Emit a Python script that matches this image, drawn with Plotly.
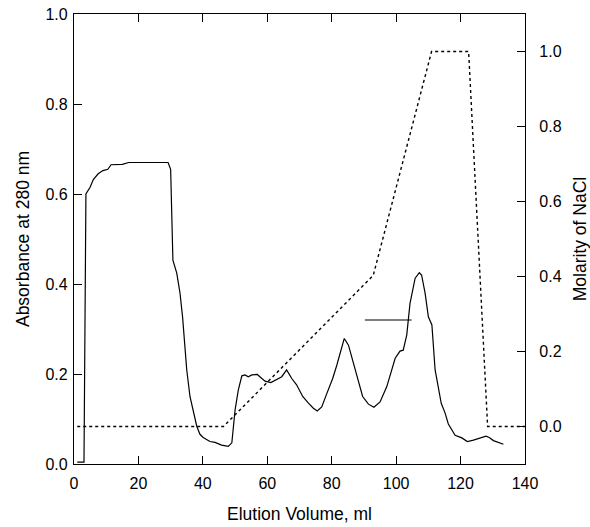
"""
Elution profile: absorbance at 280 nm and NaCl gradient.
"""

import plotly.graph_objects as go

# Absorbance trace (solid)
volume = [1, 3.1, 3.7, 5, 6, 7.5, 9, 10.5, 11.5, 12.5, 15, 17, 20, 25, 29.2, 30, 30.7,
          31.9, 32.9, 33.7, 34.5, 35, 36, 37, 38.1, 39.1, 40.1, 42.2, 43.8, 45.8,
          47.9, 49, 50, 51, 52.1, 53.1, 54.1, 55.2, 56.9, 57.7, 59.3, 61.1, 62.9,
          64.5, 66, 67.6, 69.1, 71, 72.7, 74.3, 75.5, 76.9, 78.5, 80.3, 81.6, 82.8,
          83.9, 85.2, 86.2, 87.8, 89.6, 91.4, 93.1, 95, 97.1, 99.7, 101.2, 102.2,
          103.3, 104.3, 105.9, 107.2, 107.9, 109, 110, 111.1, 112.1, 114, 115.2,
          116.2, 118.3, 120.4, 122.1, 124, 126, 127.9, 128.9, 130.2, 133.3]
absorbance = [0.004, 0.004, 0.6, 0.615, 0.632, 0.645, 0.652, 0.655, 0.665, 0.665,
              0.666, 0.67, 0.67, 0.67, 0.67, 0.655, 0.453, 0.424, 0.38, 0.327,
              0.253, 0.209, 0.15, 0.12, 0.084, 0.066, 0.059, 0.05, 0.048, 0.042,
              0.039, 0.047, 0.12, 0.164, 0.196, 0.198, 0.194, 0.198, 0.199, 0.194,
              0.184, 0.181, 0.187, 0.194, 0.209, 0.19, 0.176, 0.15, 0.136, 0.124,
              0.118, 0.127, 0.157, 0.19, 0.22, 0.25, 0.279, 0.264, 0.238, 0.194,
              0.15, 0.133, 0.126, 0.138, 0.172, 0.235, 0.251, 0.253, 0.287, 0.357,
              0.413, 0.425, 0.42, 0.379, 0.327, 0.309, 0.209, 0.135, 0.113, 0.089,
              0.064, 0.058, 0.05, 0.053, 0.058, 0.062, 0.059, 0.052, 0.044]

# Short horizontal marker line
marker_x = [90.3, 104.8]
marker_y = [0.32, 0.32]

# NaCl gradient (dotted, right axis)
gradient_volume = [1, 46.4, 92.9, 111.0, 122.5, 128.4, 140]
molarity = [0.0, 0.0, 0.403, 1.0, 1.0, 0.0, 0.0]

FONTE = 'Liberation Sans, Arial, sans-serif'

fig = go.Figure()

fig.add_trace(go.Scatter(
    x=volume, y=absorbance, mode='lines',
    line=dict(color='black', width=1.2), showlegend=False
))
fig.add_trace(go.Scatter(
    x=marker_x, y=marker_y, mode='lines',
    line=dict(color='black', width=1.2), showlegend=False
))
fig.add_trace(go.Scatter(
    x=gradient_volume, y=molarity, mode='lines', yaxis='y2',
    line=dict(color='black', width=1.4, dash='dot'), showlegend=False
))

eixo = dict(
    showline=True, linecolor='black', linewidth=1.3,
    ticks='inside', ticklen=8, tickcolor='black', tickwidth=1,
    showgrid=False, zeroline=False, ticklabeloverflow='allow',
    automargin=False, tickfont=dict(size=16, color='black')
)

fig.update_layout(
    width=590, height=527,
    margin=dict(l=74, r=65, t=14, b=63),
    plot_bgcolor='white', paper_bgcolor='white',
    font=dict(family=FONTE, size=16, color='black'),
    xaxis=dict(
        **eixo, range=[0, 140], tick0=0, dtick=20, mirror='ticks',
        ticklabelstandoff=5,
        title=dict(text='Elution Volume, ml', font=dict(size=17.5), standoff=16)
    ),
    yaxis=dict(
        **eixo, range=[0, 1.0], tick0=0, dtick=0.2, tickformat='.1f',
        ticklabelstandoff=2,
        title=dict(text='Absorbance at 280 nm', font=dict(size=17.5), standoff=11)
    ),
    yaxis2=dict(
        **eixo, range=[-0.1, 1.1], tick0=0, dtick=0.2, tickformat='.1f',
        overlaying='y', side='right', ticklabelstandoff=10,
        title=dict(text='Molarity of NaCl', font=dict(size=17.5), standoff=20)
    ),
)

# tira a margem padrão do body para a figura ocupar a janela inteira
fig.write_html('out.html', config={'displayModeBar': False},
               post_script="document.body.style.margin='0';")
